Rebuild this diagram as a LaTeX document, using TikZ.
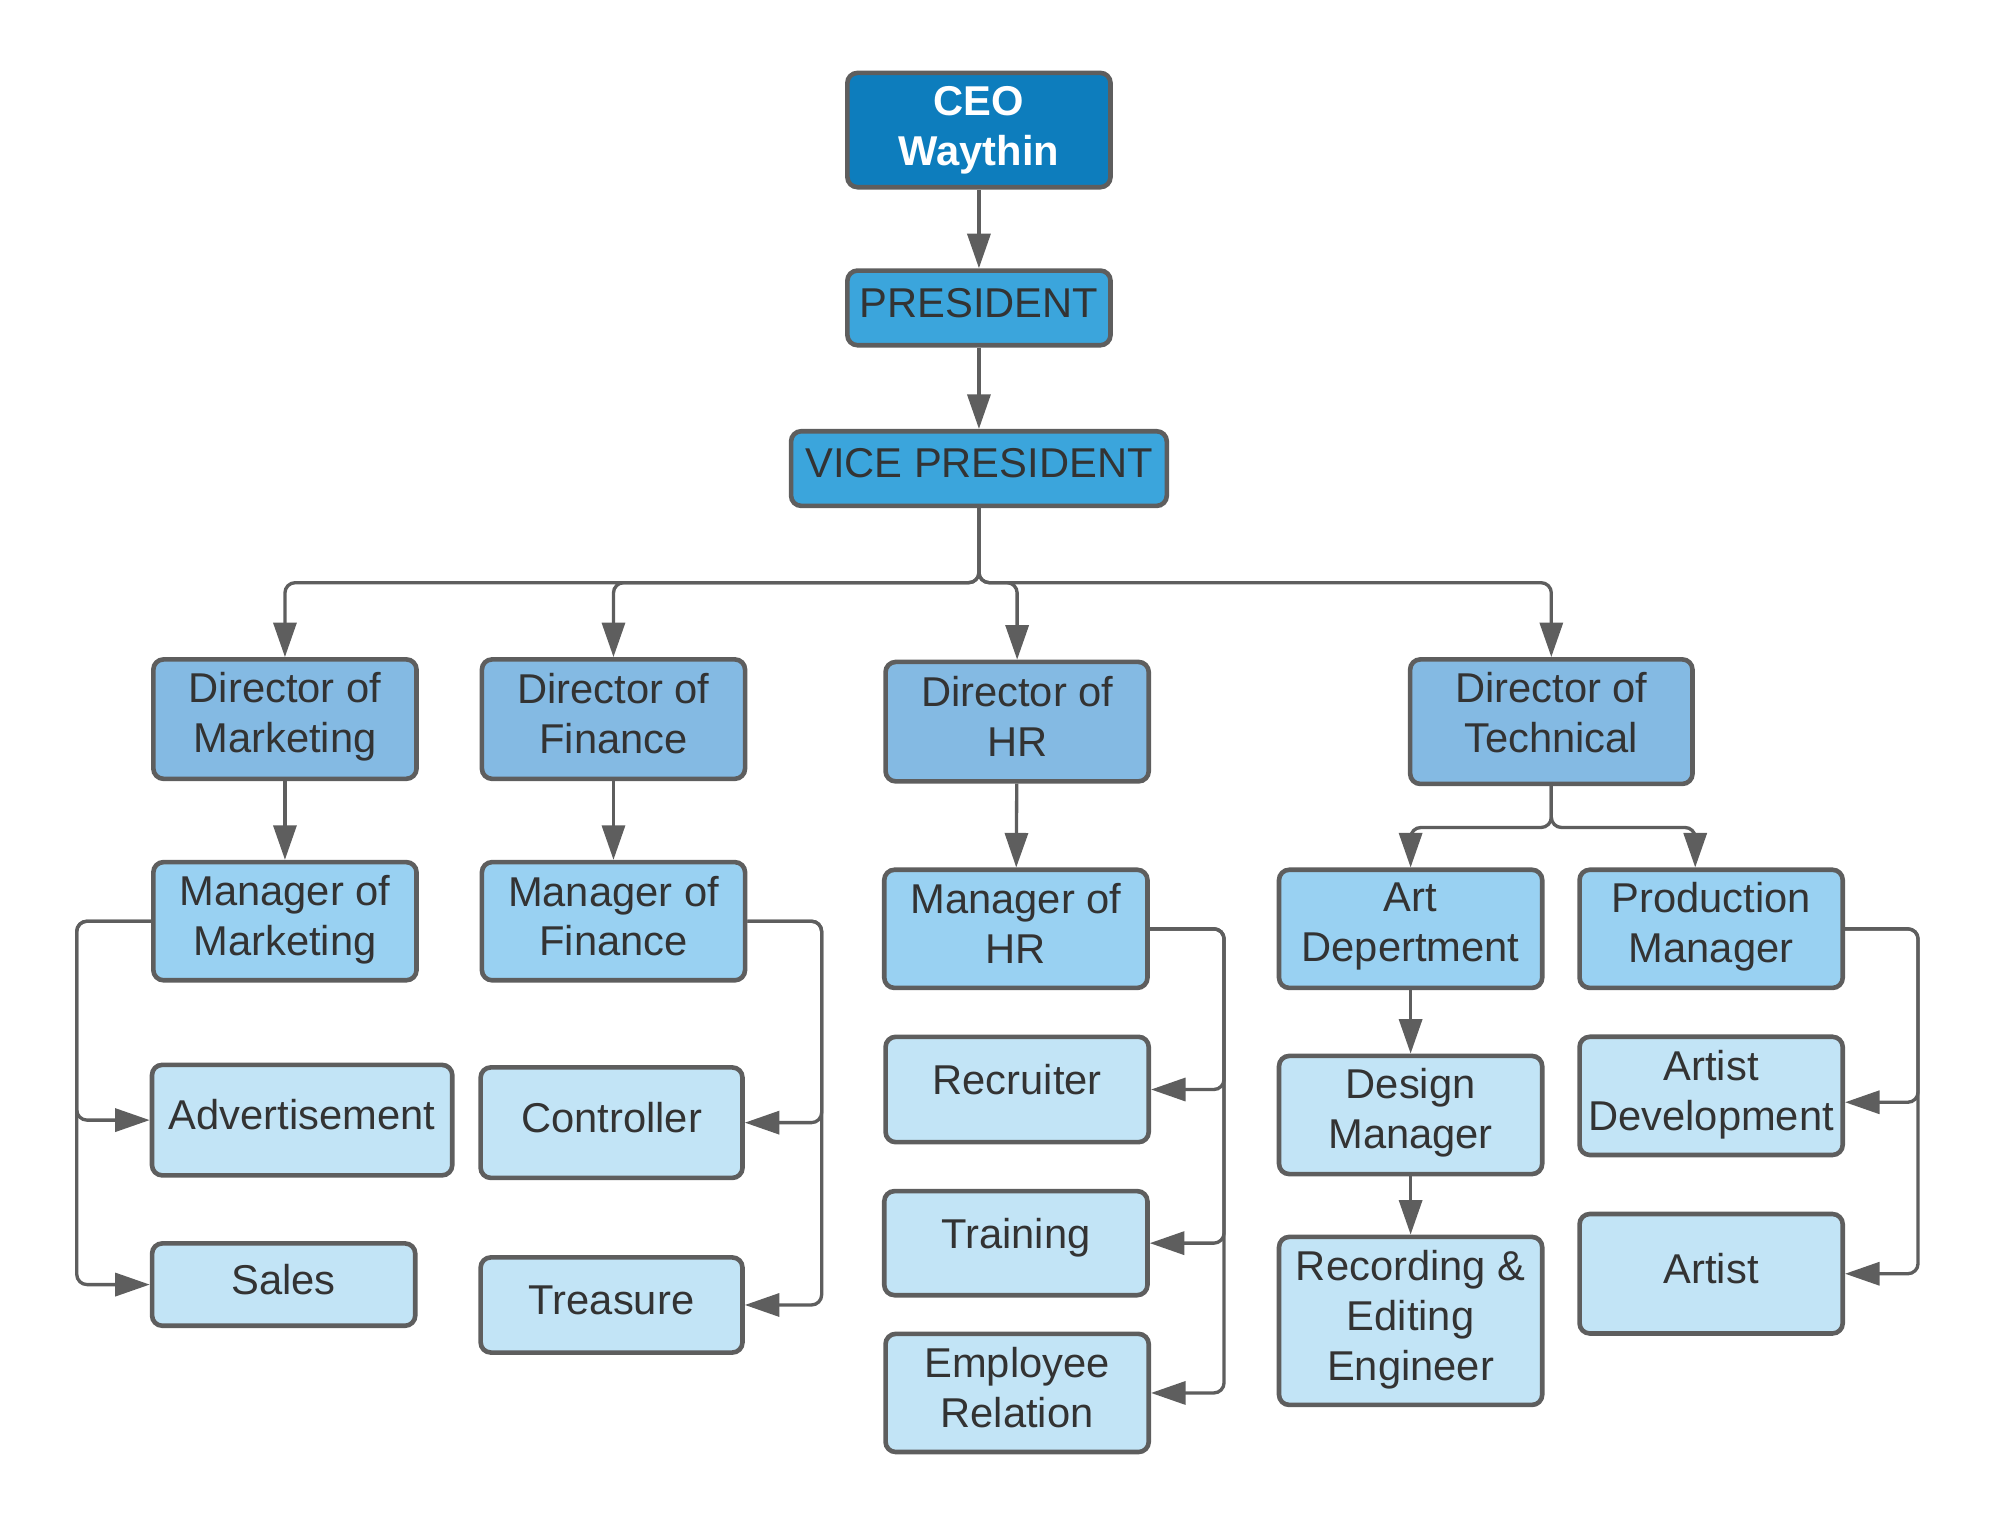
\documentclass[tikz,border=0pt]{standalone}
\usepackage{fontspec}
\setmainfont{Liberation Sans}
\usetikzlibrary{arrows.meta,calc}
\definecolor{ceoC}{HTML}{0D7DBD}
\definecolor{presC}{HTML}{3BA5DC}
\definecolor{dirC}{HTML}{84BAE3}
\definecolor{mgrC}{HTML}{99D1F2}
\definecolor{leafC}{HTML}{C2E4F6}
\definecolor{lineC}{HTML}{5E5E5E}
\definecolor{txtC}{HTML}{333333}
\tikzset{
  box/.style={draw=lineC, line width=1.8pt, rounded corners=4pt, inner sep=0pt},
  lbl/.style={align=center, text=txtC, font=\fontsize{16.3}{19.5}\selectfont, inner sep=0pt, yshift=2pt},
  ceolbl/.style={lbl, text=white, font=\fontsize{16.3}{19.5}\selectfont\bfseries, yshift=-2pt},
  ceobox/.style={box, fill=ceoC},
  presbox/.style={box, fill=presC},
  dirbox/.style={box, fill=dirC},
  mgrbox/.style={box, fill=mgrC},
  leafbox/.style={box, fill=leafC},
  conn/.style={draw=lineC, line width=1.3pt, rounded corners=4pt,
    -{Triangle[length=13.5pt,width=9pt]}, color=lineC},
}
% #1 label style, #2 name, #3 box style, #4 x, #5 y, #6 w, #7 h, #8 text
\newcommand{\bx}[8][lbl]{\node[#3, minimum width=#6*0.5pt-0.6pt, minimum height=#7*0.5pt-0.3pt,
   label={[#1]center:{#8}}] (#2) at (#4,#5) {};}
\begin{document}
\begin{tikzpicture}[x=0.5pt,y=-0.5pt]
\useasboundingbox (0,0) rectangle (1560,1193.3);
\begin{scope}[xshift=0.135pt, yshift=0.5pt, x=0.49787pt, y=-0.4985pt]
\bx[ceolbl]{ceo}{ceobox}{768.5}{103}{207}{90}{CEO\\Waythin}
\bx{pres}{presbox}{768.5}{242.5}{207}{59}{PRESIDENT}
\bx{vp}{presbox}{768.5}{368.5}{295}{59}{VICE PRESIDENT}
\bx[lbl,yshift=-1pt]{dm}{dirbox}{223.5}{565}{207}{94}{Director of\\Marketing}
\bx{df}{dirbox}{481.5}{565}{207}{94}{Director of\\Finance}
\bx{dhr}{dirbox}{798.5}{567}{207}{94}{Director of\\HR}
\bx[lbl,yshift=1.5pt]{dt}{dirbox}{1218}{567}{222}{98}{Director of\\Technical}
\bx[lbl,yshift=-1.5pt]{mm}{mgrbox}{223.5}{723.5}{207}{93}{Manager of\\Marketing}
\bx{mf}{mgrbox}{481.5}{723.5}{207}{93}{Manager of\\Finance}
\bx{mhr}{mgrbox}{797.5}{729.5}{207}{93}{Manager of\\HR}
\bx[lbl,yshift=-1pt]{art}{mgrbox}{1107.5}{729.5}{207}{93}{Art\\Depertment}
\bx[lbl,yshift=-1pt]{pm}{mgrbox}{1343.5}{729.5}{207}{93}{Production\\Manager}
\bx{adv}{leafbox}{237}{879.5}{236}{87}{Advertisement}
\bx{sales}{leafbox}{222.5}{1008.5}{207}{65}{Sales}
\bx{ctrl}{leafbox}{480}{881.5}{206}{87}{Controller}
\bx{treas}{leafbox}{480}{1024.5}{206}{75}{Treasure}
\bx[lbl,yshift=2pt]{rec}{leafbox}{798.5}{855.5}{207}{83}{Recruiter}
\bx{train}{leafbox}{797.5}{976}{207}{82}{Training}
\bx{emp}{leafbox}{798.5}{1093.5}{207}{93}{Employee\\Relation}
\bx[lbl,yshift=-1pt]{dsg}{leafbox}{1107.5}{875.5}{207}{93}{Design\\Manager}
\bx[lbl,yshift=-1.5pt]{recd}{leafbox}{1107.5}{1037}{207}{132}{Recording \&\\Editing\\Engineer}
\bx[lbl,yshift=-1.5pt]{ad}{leafbox}{1343.5}{860.5}{207}{93}{Artist\\Development}
\bx{artist}{leafbox}{1343.5}{1000}{207}{94}{Artist}
% helper coordinates
\coordinate (vpj) at (768.5,458);
\coordinate (dtj) at (1218,650);
\coordinate (pmx) at (1331,0);
\coordinate (mmx) at (60,0);
\coordinate (mfx) at (645,0);
\coordinate (mhx) at (961,0);
\coordinate (pmr) at (1506,0);
% connectors
\draw[conn] (ceo) -- (pres);
\draw[conn] (pres) -- (vp);
\draw[conn] (vp.south) -- (vpj) -| (dm.north);
\draw[conn] (vp.south) -- (vpj) -| (df.north);
\draw[conn] (vp.south) -- (vpj) -| (dhr.north);
\draw[conn] (vp.south) -- (vpj) -| (dt.north);
\draw[conn] (dm) -- (mm);
\draw[conn] (df) -- (mf);
\draw[conn] (dhr) -- (mhr);
\draw[conn] (dt.south) -- (dtj) -| (art.north);
\draw[conn] (dt.south) -- (dtj) -| (pm.north -| pmx);
\draw[conn] (art) -- (dsg);
\draw[conn] (dsg) -- (recd);
\draw[conn] (mm.west) -- (mm.west -| mmx) |- (adv.west);
\draw[conn] (mm.west) -- (mm.west -| mmx) |- (sales.west);
\draw[conn] (mf.east) -- (mf.east -| mfx) |- (ctrl.east);
\draw[conn] (mf.east) -- (mf.east -| mfx) |- (treas.east);
\draw[conn] (mhr.east) -- (mhr.east -| mhx) |- (rec.east);
\draw[conn] (mhr.east) -- (mhr.east -| mhx) |- (train.east);
\draw[conn] (mhr.east) -- (mhr.east -| mhx) |- (emp.east);
\draw[conn] (pm.east) -- (pm.east -| pmr) |- ($(ad.east)+(0,5)$);
\draw[conn] (pm.east) -- (pm.east -| pmr) |- (artist.east);
\end{scope}
\end{tikzpicture}
\end{document}
